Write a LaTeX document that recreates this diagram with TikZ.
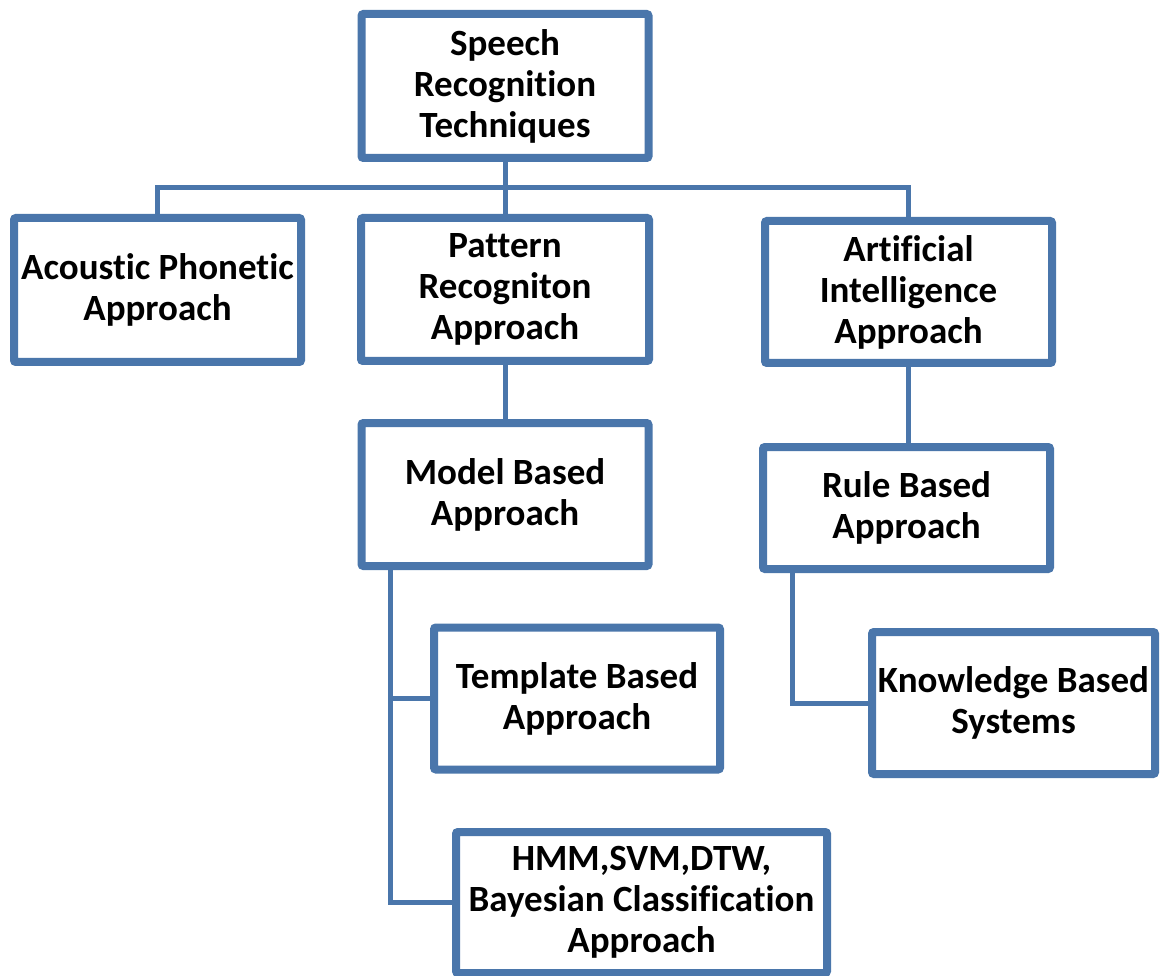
\documentclass[tikz,border=0pt]{standalone}
\usepackage{fontspec}
\setmainfont{Carlito}[Ligatures={NoCommon}]
\usetikzlibrary{shadows}
\definecolor{boxblue}{RGB}{74,118,171}
\tikzset{
  box/.style={draw=boxblue, line width=8pt, fill=white, rounded corners=2pt,
    align=center, inner sep=0pt,
    font=\fontsize{37}{41}\selectfont\bfseries,
    drop shadow={shadow xshift=2pt, shadow yshift=-3pt, opacity=0.25}},
  conn/.style={draw=boxblue, line width=5pt}
}
\begin{document}
\begin{tikzpicture}[x=1pt, y=-1pt]
\useasboundingbox (0,0) rectangle (1160,976);

% junction points of the connectors
\coordinate (bus) at (505,188);
\coordinate (trunk) at (390,0);
\coordinate (ktrunk) at (792,0);

% boxes
\node[box, minimum width=287, minimum height=144] (root) at (505,86) {Speech\\Recognition\\Techniques};
\node[box, minimum width=287, minimum height=144] (acoustic) at (157.5,290) {Acoustic Phonetic\\Approach};
\node[box, minimum width=288, minimum height=143] (pattern) at (505,289.5) {Pattern\\Recogniton\\Approach};
\node[box, minimum width=287, minimum height=142] (ai) at (908.5,292) {Artificial\\Intelligence\\Approach};
\node[box, minimum width=287, minimum height=143] (model) at (505,494.5) {Model Based\\Approach};
\node[box, minimum width=287, minimum height=122] (rule) at (906.5,508) {Rule Based\\Approach};
\node[box, minimum width=286, minimum height=142] (template) at (577,698.5) {Template Based\\Approach};
\node[box, minimum width=283, minimum height=142] (knowledge) at (1013.5,703) {Knowledge Based\\Systems};
\node[box, minimum width=371, minimum height=141] (hmm) at (641.5,902.5) {HMM,SVM,DTW,\\Bayesian Classification\\Approach};

% connectors
\draw[conn] (root.south) -- (bus);
\draw[conn] (acoustic.north) |- (bus);
\draw[conn] (bus) -| (ai.north);
\draw[conn] (bus) -- (pattern.north);
\draw[conn] (pattern.south) -- (model.north);
\draw[conn] (ai.south) -- (rule.north -| ai.south);
\draw[conn] (model.south -| trunk) |- (hmm.west);
\draw[conn] (template.west) -- (template.west -| trunk);
\draw[conn] (rule.south -| ktrunk) |- (knowledge.west);
\end{tikzpicture}
\end{document}
